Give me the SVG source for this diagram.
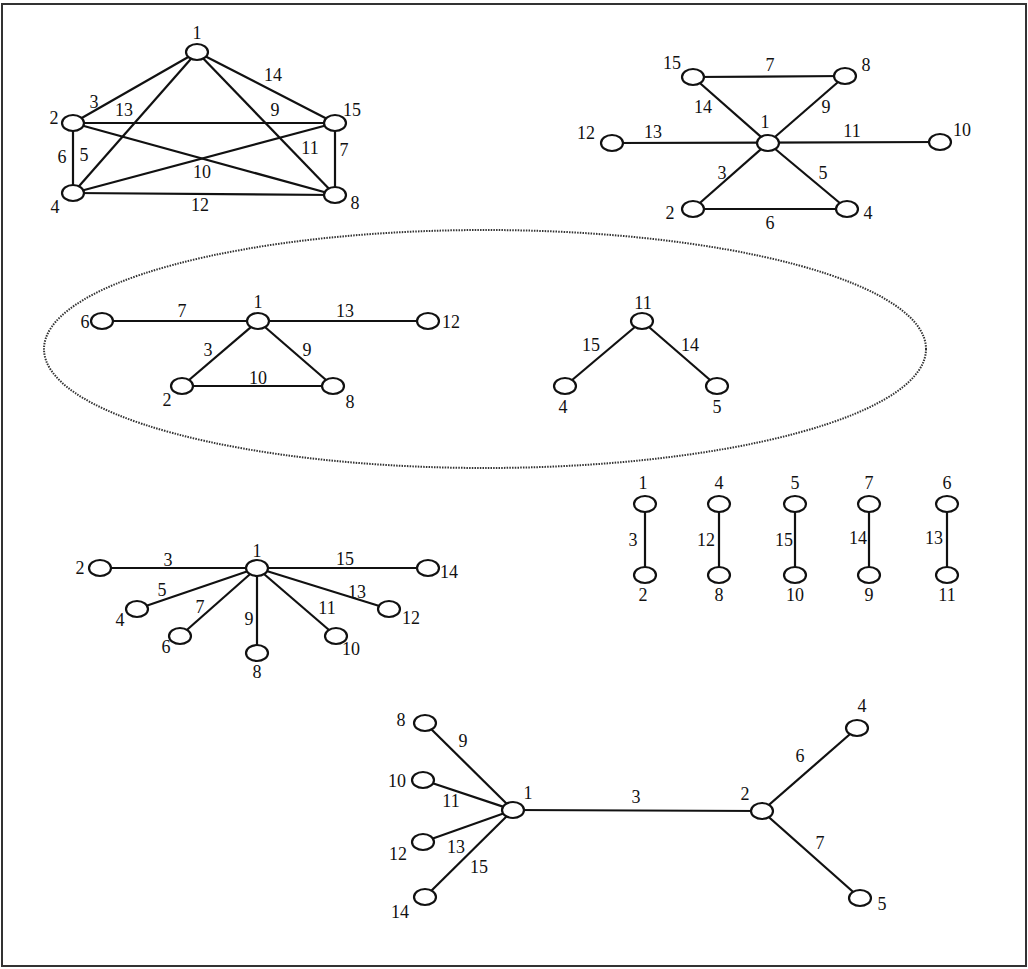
<svg xmlns="http://www.w3.org/2000/svg" width="1028" height="969" viewBox="0 0 1028 969">
<style>
.e{stroke:#111;stroke-width:2.2;fill:none}
.n{fill:#fff;stroke:#111;stroke-width:2.2}
text{font-family:"Liberation Serif","Times New Roman",serif;font-size:18px;fill:#111;text-anchor:middle}
</style>
<rect x="0" y="0" width="1028" height="969" fill="#fff"/>
<rect x="2" y="4" width="1024" height="962" fill="none" stroke="#333" stroke-width="2"/>
<ellipse cx="485" cy="349" rx="441" ry="119" fill="none" stroke="#333" stroke-width="2" stroke-dasharray="1.5 1.2"/>
<g id="connectors">
<line class="e" x1="197" y1="52" x2="73" y2="123"/>
<line class="e" x1="197" y1="52" x2="335" y2="123"/>
<line class="e" x1="197" y1="52" x2="73" y2="193"/>
<line class="e" x1="197" y1="52" x2="335" y2="195"/>
<line class="e" x1="73" y1="123" x2="335" y2="123"/>
<line class="e" x1="73" y1="123" x2="335" y2="195"/>
<line class="e" x1="73" y1="123" x2="73" y2="193"/>
<line class="e" x1="335" y1="123" x2="73" y2="193"/>
<line class="e" x1="335" y1="123" x2="335" y2="195"/>
<line class="e" x1="73" y1="193" x2="335" y2="195"/>
<line class="e" x1="693" y1="77" x2="845" y2="76"/>
<line class="e" x1="693" y1="77" x2="768" y2="143"/>
<line class="e" x1="845" y1="76" x2="768" y2="143"/>
<line class="e" x1="612" y1="143" x2="940" y2="142"/>
<line class="e" x1="768" y1="143" x2="693" y2="209"/>
<line class="e" x1="768" y1="143" x2="847" y2="209"/>
<line class="e" x1="693" y1="209" x2="847" y2="209"/>
<line class="e" x1="102" y1="321" x2="428" y2="321"/>
<line class="e" x1="258" y1="321" x2="182" y2="386"/>
<line class="e" x1="258" y1="321" x2="333" y2="386"/>
<line class="e" x1="182" y1="386" x2="333" y2="386"/>
<line class="e" x1="642" y1="321" x2="565" y2="386"/>
<line class="e" x1="642" y1="321" x2="717" y2="386"/>
<line class="e" x1="645" y1="504" x2="645" y2="575"/>
<line class="e" x1="719" y1="504" x2="719" y2="575"/>
<line class="e" x1="795" y1="504" x2="795" y2="575"/>
<line class="e" x1="869" y1="504" x2="869" y2="575"/>
<line class="e" x1="947" y1="504" x2="947" y2="575"/>
<line class="e" x1="100" y1="568" x2="428" y2="568"/>
<line class="e" x1="257" y1="568" x2="137" y2="609"/>
<line class="e" x1="257" y1="568" x2="180" y2="636"/>
<line class="e" x1="257" y1="568" x2="257" y2="653"/>
<line class="e" x1="257" y1="568" x2="336" y2="636"/>
<line class="e" x1="257" y1="568" x2="389" y2="609"/>
<line class="e" x1="513" y1="810" x2="762" y2="811"/>
<line class="e" x1="513" y1="810" x2="425" y2="723"/>
<line class="e" x1="513" y1="810" x2="423" y2="780"/>
<line class="e" x1="513" y1="810" x2="423" y2="842"/>
<line class="e" x1="513" y1="810" x2="425" y2="897"/>
<line class="e" x1="762" y1="811" x2="857" y2="728"/>
<line class="e" x1="762" y1="811" x2="860" y2="898"/>
</g>
<g id="edge-labels">
<text x="94" y="108">3</text><text x="273" y="81">14</text><text x="124" y="116">13</text><text x="275" y="116">9</text>
<text x="62" y="163">6</text><text x="84" y="161">5</text><text x="202" y="178">10</text><text x="310" y="154">11</text><text x="344" y="156">7</text><text x="200" y="211">12</text>
<text x="770" y="71">7</text><text x="703" y="113">14</text><text x="826" y="113">9</text><text x="653" y="138">13</text><text x="852" y="137">11</text><text x="722" y="179">3</text><text x="823" y="179">5</text><text x="770" y="229">6</text>
<text x="182" y="317">7</text><text x="345" y="317">13</text><text x="208" y="356">3</text><text x="307" y="356">9</text><text x="258" y="384">10</text>
<text x="591" y="351">15</text><text x="690" y="351">14</text>
<text x="633" y="546">3</text><text x="706" y="546">12</text><text x="784" y="546">15</text><text x="858" y="544">14</text><text x="934" y="544">13</text>
<text x="168" y="566">3</text><text x="345" y="565">15</text><text x="162" y="596">5</text><text x="357" y="598">13</text><text x="200" y="613">7</text><text x="327" y="614">11</text><text x="249" y="625">9</text>
<text x="463" y="747">9</text><text x="451" y="807">11</text><text x="456" y="853">13</text><text x="479" y="873">15</text><text x="636" y="803">3</text><text x="800" y="762">6</text><text x="820" y="849">7</text>
</g>
<g id="graphA">
<g id="a1"><ellipse class="n" cx="197" cy="52" rx="11" ry="8"/><text x="197" y="39">1</text></g>
<g id="a2"><ellipse class="n" cx="73" cy="123" rx="11" ry="8"/><text x="54" y="124">2</text></g>
<g id="a15"><ellipse class="n" cx="335" cy="123" rx="11" ry="8"/><text x="352" y="116">15</text></g>
<g id="a4"><ellipse class="n" cx="73" cy="193" rx="11" ry="8"/><text x="55" y="213">4</text></g>
<g id="a8"><ellipse class="n" cx="335" cy="195" rx="11" ry="8"/><text x="355" y="209">8</text></g>
</g>
<g id="graphB">
<g id="b15"><ellipse class="n" cx="693" cy="77" rx="11" ry="8"/><text x="672" y="69">15</text></g>
<g id="b8"><ellipse class="n" cx="845" cy="76" rx="11" ry="8"/><text x="866" y="71">8</text></g>
<g id="b1"><ellipse class="n" cx="768" cy="143" rx="11" ry="8"/><text x="765" y="128">1</text></g>
<g id="b12"><ellipse class="n" cx="612" cy="143" rx="11" ry="8"/><text x="586" y="139">12</text></g>
<g id="b10"><ellipse class="n" cx="940" cy="142" rx="11" ry="8"/><text x="962" y="136">10</text></g>
<g id="b2"><ellipse class="n" cx="693" cy="209" rx="11" ry="8"/><text x="670" y="219">2</text></g>
<g id="b4"><ellipse class="n" cx="847" cy="209" rx="11" ry="8"/><text x="868" y="219">4</text></g>
</g>
<g id="graphC">
<g id="c6"><ellipse class="n" cx="102" cy="321" rx="11" ry="8"/><text x="85" y="328">6</text></g>
<g id="c1"><ellipse class="n" cx="258" cy="321" rx="11" ry="8"/><text x="258" y="308">1</text></g>
<g id="c12"><ellipse class="n" cx="428" cy="321" rx="11" ry="8"/><text x="451" y="328">12</text></g>
<g id="c2"><ellipse class="n" cx="182" cy="386" rx="11" ry="8"/><text x="167" y="406">2</text></g>
<g id="c8"><ellipse class="n" cx="333" cy="386" rx="11" ry="8"/><text x="350" y="408">8</text></g>
</g>
<g id="graphD">
<g id="d11"><ellipse class="n" cx="642" cy="321" rx="11" ry="8"/><text x="643" y="309">11</text></g>
<g id="d4"><ellipse class="n" cx="565" cy="386" rx="11" ry="8"/><text x="563" y="413">4</text></g>
<g id="d5"><ellipse class="n" cx="717" cy="386" rx="11" ry="8"/><text x="717" y="413">5</text></g>
</g>
<g id="pairs">
<g id="p1"><ellipse class="n" cx="645" cy="504" rx="11" ry="8"/><text x="643" y="489">1</text></g>
<g id="p2"><ellipse class="n" cx="645" cy="575" rx="11" ry="8"/><text x="643" y="601">2</text></g>
<g id="p4"><ellipse class="n" cx="719" cy="504" rx="11" ry="8"/><text x="719" y="489">4</text></g>
<g id="p8"><ellipse class="n" cx="719" cy="575" rx="11" ry="8"/><text x="719" y="601">8</text></g>
<g id="p5"><ellipse class="n" cx="795" cy="504" rx="11" ry="8"/><text x="795" y="489">5</text></g>
<g id="p10"><ellipse class="n" cx="795" cy="575" rx="11" ry="8"/><text x="795" y="601">10</text></g>
<g id="p7"><ellipse class="n" cx="869" cy="504" rx="11" ry="8"/><text x="869" y="489">7</text></g>
<g id="p9"><ellipse class="n" cx="869" cy="575" rx="11" ry="8"/><text x="869" y="601">9</text></g>
<g id="p6"><ellipse class="n" cx="947" cy="504" rx="11" ry="8"/><text x="947" y="489">6</text></g>
<g id="p11"><ellipse class="n" cx="947" cy="575" rx="11" ry="8"/><text x="947" y="601">11</text></g>
</g>
<g id="star">
<g id="s1"><ellipse class="n" cx="257" cy="568" rx="11" ry="8"/><text x="257" y="557">1</text></g>
<g id="s2"><ellipse class="n" cx="100" cy="568" rx="11" ry="8"/><text x="80" y="574">2</text></g>
<g id="s14"><ellipse class="n" cx="428" cy="568" rx="11" ry="8"/><text x="449" y="578">14</text></g>
<g id="s4"><ellipse class="n" cx="137" cy="609" rx="11" ry="8"/><text x="120" y="626">4</text></g>
<g id="s6"><ellipse class="n" cx="180" cy="636" rx="11" ry="8"/><text x="166" y="653">6</text></g>
<g id="s8"><ellipse class="n" cx="257" cy="653" rx="11" ry="8"/><text x="257" y="678">8</text></g>
<g id="s10"><ellipse class="n" cx="336" cy="636" rx="11" ry="8"/><text x="351" y="655">10</text></g>
<g id="s12"><ellipse class="n" cx="389" cy="609" rx="11" ry="8"/><text x="411" y="624">12</text></g>
</g>
<g id="tree">
<g id="t1"><ellipse class="n" cx="513" cy="810" rx="11" ry="8"/><text x="528" y="799">1</text></g>
<g id="t2"><ellipse class="n" cx="762" cy="811" rx="11" ry="8"/><text x="745" y="800">2</text></g>
<g id="t8"><ellipse class="n" cx="425" cy="723" rx="11" ry="8"/><text x="401" y="726">8</text></g>
<g id="t10"><ellipse class="n" cx="423" cy="780" rx="11" ry="8"/><text x="397" y="787">10</text></g>
<g id="t12"><ellipse class="n" cx="423" cy="842" rx="11" ry="8"/><text x="398" y="860">12</text></g>
<g id="t14"><ellipse class="n" cx="425" cy="897" rx="11" ry="8"/><text x="400" y="918">14</text></g>
<g id="t4"><ellipse class="n" cx="857" cy="728" rx="11" ry="8"/><text x="862" y="712">4</text></g>
<g id="t5"><ellipse class="n" cx="860" cy="898" rx="11" ry="8"/><text x="882" y="910">5</text></g>
</g>
</svg>
